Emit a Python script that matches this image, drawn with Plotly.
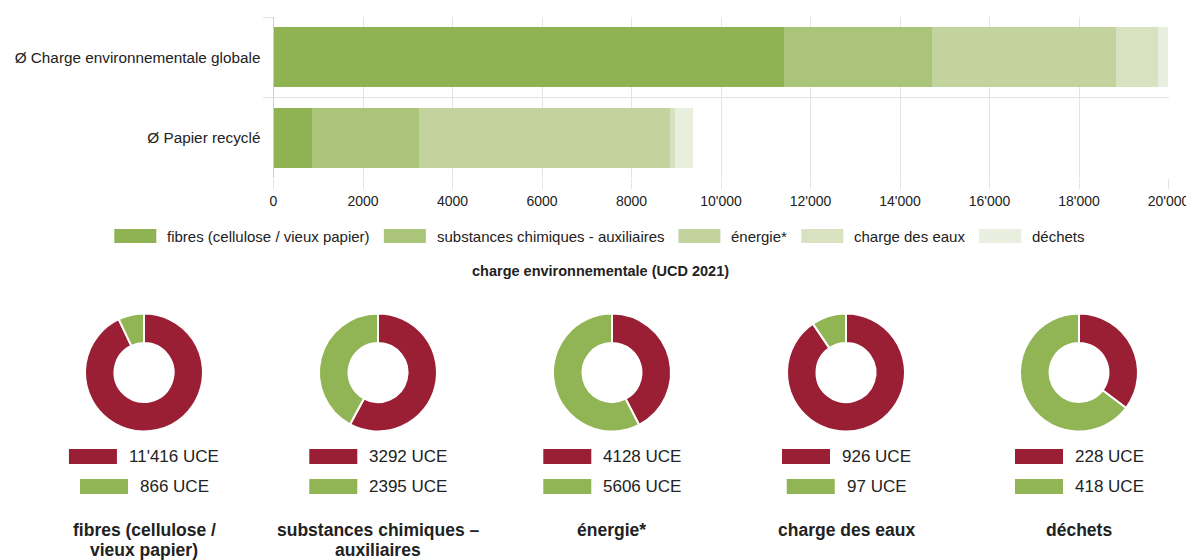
import plotly.graph_objects as go

# ---------------- data ----------------
categories = ["Ø Charge environnementale globale", "Ø Papier recyclé"]
components = ["fibres (cellulose / vieux papier)", "substances chimiques - auxiliaires",
              "énergie*", "charge des eaux", "déchets"]
global_vals = [11416, 3292, 4128, 926, 228]
recycled_vals = [866, 2395, 5606, 97, 418]
donut_titles = ["fibres (cellulose /<br>vieux papier)", "substances chimiques –<br>auxiliaires",
                "énergie*", "charge des eaux", "déchets"]
x_tickvals = [0, 2000, 4000, 6000, 8000, 10000, 12000, 14000, 16000, 18000, 20000]
x_ticktext = ["0", "2000", "4000", "6000", "8000", "10'000", "12'000", "14'000", "16'000", "18'000", "20'000"]
chart_title = "charge environnementale (UCD 2021)"
unit = "UCE"

# ---------------- styles ----------------
PAGE_W, PAGE_H = 1194, 560
OFF = 8  # default body margin of the html page
W, H = PAGE_W - OFF, PAGE_H - OFF
bar_colors = ["#8FB353", "#AAC47A", "#C3D39E", "#D8E2C0", "#E9EFDE"]
red = "#9A1E34"
green = "#91B454"
FONT = "Liberation Sans, Arial, Helvetica, sans-serif"
TXT = "#222222"
GRID = "#e4e4e4"

REG = {**{c: 556 for c in "abdeghnopqu0123456789é"}, 'c': 500, 'f': 278, 'i': 222, 'j': 222, 'k': 500,
       'l': 222, 'm': 833, 'r': 333, 's': 500, 't': 278, 'v': 500, 'w': 722, 'x': 500, 'y': 500, 'z': 500,
       ' ': 278, "'": 191, '(': 333, ')': 333, '/': 278, '-': 333, '–': 556, '*': 389,
       'U': 722, 'C': 722, 'E': 667, 'D': 722, 'Ø': 778}


def text_w(s, size):
    return sum(REG.get(ch, 556) for ch in s) * size / 1000.0


def fmt(v):
    return f"{v:,}".replace(",", "'") if v >= 10000 else str(v)


def px(x):  # page pixel -> paper fraction
    return (x - OFF) / W


def py(y):
    return 1 - (y - OFF) / H


fig = go.Figure()

# ---------------- stacked bars ----------------
for name, gv, rv, col in zip(components, global_vals, recycled_vals, bar_colors):
    fig.add_trace(go.Bar(
        y=categories, x=[gv, rv], name=name, orientation="h",
        marker=dict(color=col, line=dict(width=0)),
        showlegend=False, hovertemplate="%{y}<br>" + name + ": %{x}<extra></extra>"))

fig.update_layout(
    barmode="stack", bargap=0.26,
    xaxis=dict(domain=[px(273.5), px(1168.5)], range=[0, 20000], tickvals=x_tickvals, ticktext=x_ticktext,
               showgrid=True, gridcolor=GRID, gridwidth=1, zeroline=False, showline=False,
               ticks="outside", ticklen=10, tickcolor=GRID, tickfont=dict(size=14, color=TXT), anchor="y"),
    yaxis=dict(domain=[py(178), py(17)], type="category", categoryorder="array", categoryarray=categories,
               autorange="reversed", tickson="boundaries", ticks="outside", ticklen=10, tickcolor=GRID,
               showgrid=True, gridcolor=GRID, showline=True, linecolor="#cfcfcf", linewidth=1,
               ticklabelstandoff=9,
               tickfont=dict(size=15.3, color=TXT), anchor="x"),
)

shapes = []
annotations = []

# ---------------- top legend (manual) ----------------
lg_font = 15
box_w, box_h, gap_bt, gap_it = 42, 14, 10, 15
widths = [box_w + gap_bt + text_w(c, lg_font) for c in components]
total = sum(widths) + gap_it * (len(components) - 1)
x0 = 599 - total / 2
ly = 236
for c, col, w in zip(components, bar_colors, widths):
    shapes.append(dict(type="rect", xref="paper", yref="paper", x0=px(x0), x1=px(x0 + box_w),
                       y0=py(ly + box_h / 2), y1=py(ly - box_h / 2), fillcolor=col, line=dict(width=0)))
    annotations.append(dict(text=c, x=px(x0 + box_w + gap_bt - 1), y=py(ly), xref="paper", yref="paper",
                            xanchor="left", yanchor="middle", showarrow=False,
                            font=dict(size=lg_font, color=TXT)))
    x0 += w + gap_it

annotations.append(dict(text="<b>" + chart_title + "</b>", x=px(600), y=py(271), xref="paper", yref="paper",
                        xanchor="center", yanchor="middle", showarrow=False,
                        font=dict(size=14.5, color=TXT)))

# ---------------- donuts ----------------
centers = [144, 378, 612, 846, 1079]
cy, r = 372.5, 59
d_font = 17
dbox_w, dbox_h, dgap = 48, 15, 11
row_y = [456.5, 486.5]
for i, (cx, gv, rv, title) in enumerate(zip(centers, global_vals, recycled_vals, donut_titles)):
    labels = [f"{fmt(gv)} {unit}", f"{fmt(rv)} {unit}"]
    fig.add_trace(go.Pie(
        values=[gv, rv], labels=labels, hole=0.5, sort=False, direction="clockwise", rotation=0,
        marker=dict(colors=[red, green], line=dict(color="white", width=2)),
        textinfo="none", showlegend=False, hoverinfo="label",
        domain=dict(x=[px(cx - r), px(cx + r)], y=[py(cy + r), py(cy - r)])))
    for lab, col, yy in zip(labels, [red, green], row_y):
        gw = dbox_w + dgap + text_w(lab, d_font)
        bx = cx - gw / 2
        shapes.append(dict(type="rect", xref="paper", yref="paper", x0=px(bx), x1=px(bx + dbox_w),
                           y0=py(yy + dbox_h / 2), y1=py(yy - dbox_h / 2), fillcolor=col, line=dict(width=0)))
        annotations.append(dict(text=lab, x=px(bx + dbox_w + dgap - 1), y=py(yy), xref="paper", yref="paper",
                                xanchor="left", yanchor="middle", showarrow=False,
                                font=dict(size=d_font, color=TXT)))
    for k, line in enumerate(title.split("<br>")):
        annotations.append(dict(text="<b>" + line + "</b>", x=px(cx), y=py(530 + 20 * k), xref="paper",
                                yref="paper", xanchor="center", yanchor="middle", showarrow=False,
                                font=dict(size=17.5, color=TXT)))

fig.update_layout(
    width=W, height=H, margin=dict(l=0, r=0, t=0, b=0, autoexpand=False),
    paper_bgcolor="white", plot_bgcolor="white",
    font=dict(family=FONT, color=TXT),
    shapes=shapes, annotations=annotations, showlegend=False,
)

fig.write_html("out.html")
